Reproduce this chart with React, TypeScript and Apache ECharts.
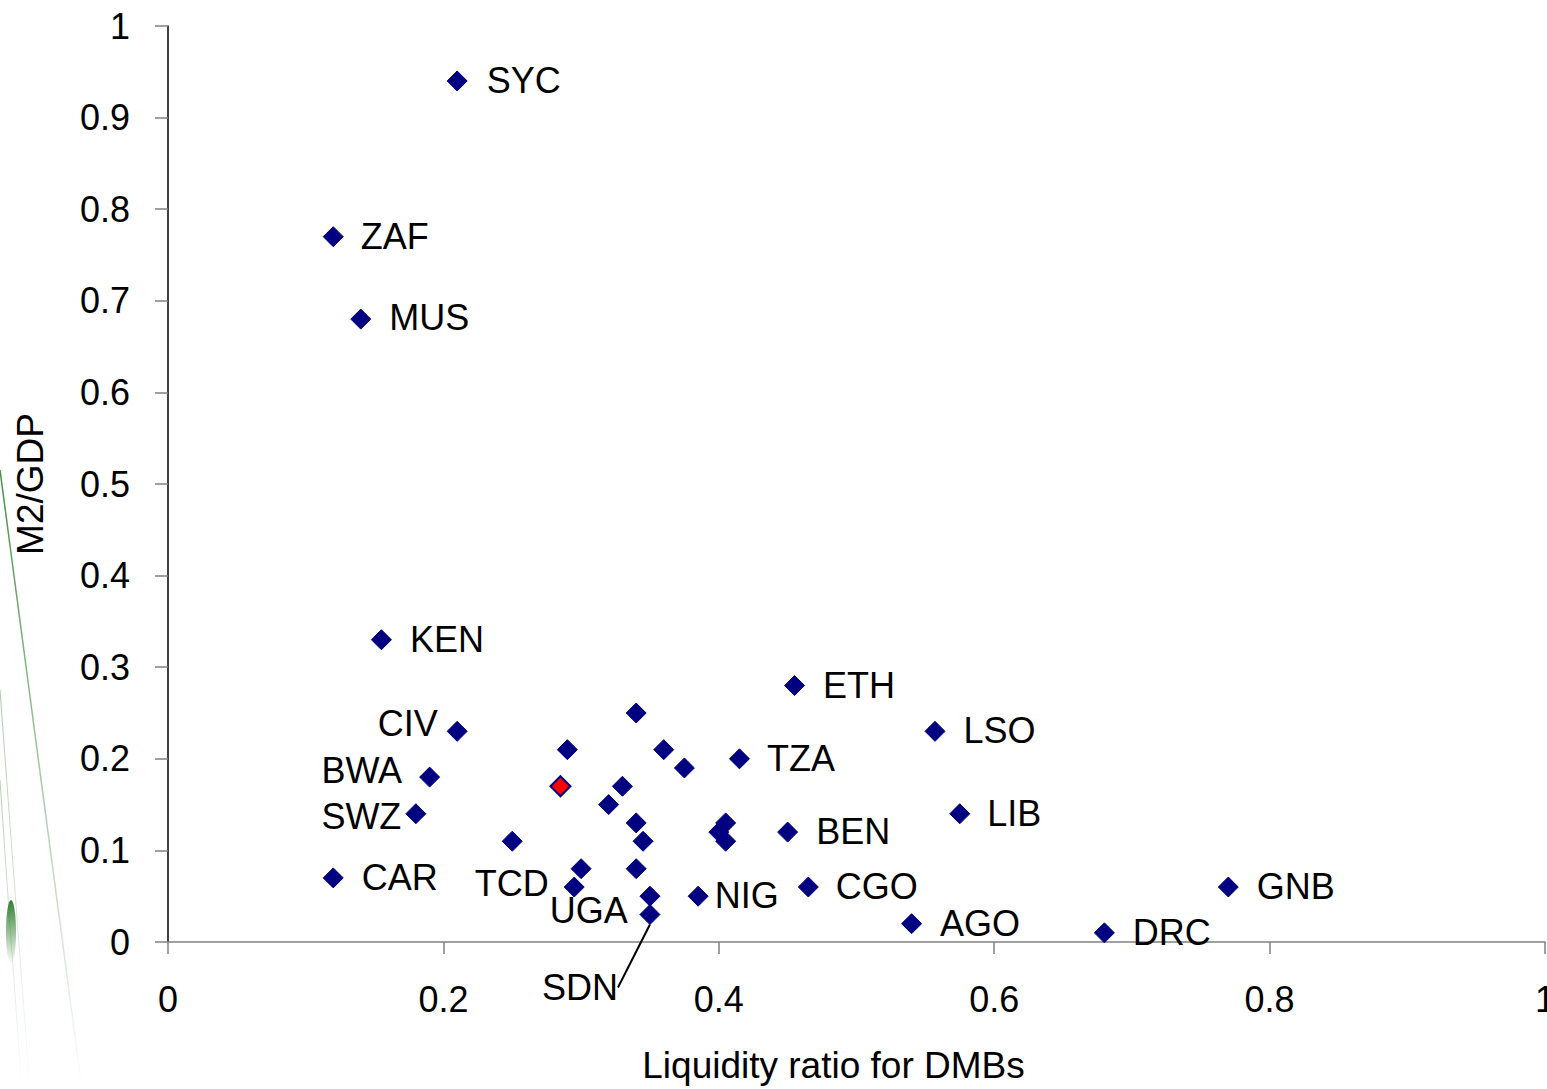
import React, { useEffect, useRef } from "react";
import * as echarts from "echarts";

// Country codes (blank = unlabelled point)
const countryLabels = [
  "SYC", "ZAF", "MUS", "KEN", "CIV", "BWA", "SWZ", "CAR", "TCD", "", "UGA",
  "", "", "", "", "", "", "",
  "TZA",
  "", "", "", "",
  "SDN", "NIG",
  "", "", "",
  "BEN", "ETH", "CGO", "LSO", "LIB", "AGO", "DRC", "GNB",
];

// Liquidity ratio for deposit money banks
const liquidityRatio = [
  0.21, 0.12, 0.14, 0.155, 0.21, 0.19, 0.18, 0.12, 0.25, 0.3, 0.295,
  0.29, 0.285, 0.34, 0.33, 0.32, 0.36, 0.375,
  0.415,
  0.34, 0.345, 0.34, 0.35,
  0.35, 0.385,
  0.405, 0.4, 0.405,
  0.45, 0.455, 0.465, 0.557, 0.575, 0.54, 0.68, 0.77,
];

// Broad money to GDP
const m2ToGdp = [
  0.94, 0.77, 0.68, 0.33, 0.23, 0.18, 0.14, 0.07, 0.11, 0.08, 0.06,
  0.21, 0.17, 0.25, 0.17, 0.15, 0.21, 0.19,
  0.2,
  0.13, 0.11, 0.08, 0.05,
  0.03, 0.05,
  0.13, 0.12, 0.11,
  0.12, 0.28, 0.06, 0.23, 0.14, 0.02, 0.01, 0.06,
];

const xTicks = { min: 0, max: 1, interval: 0.2 };
const yTicks = { min: 0, max: 1, interval: 0.1 };

// Point drawn in red
const highlightIndex = 12;

// Label placement relative to the marker centre (pixels)
type Placement = { dx: number; dy?: number; align?: "left" | "right" | "center" };
const labelPlacement: Record<string, Placement> = {
  SYC: { dx: 30 },
  ZAF: { dx: 28 },
  MUS: { dx: 29, dy: -1 },
  KEN: { dx: 29 },
  CIV: { dx: -19, dy: -7, align: "right" },
  BWA: { dx: -27, dy: -6, align: "right" },
  SWZ: { dx: -14, dy: 3, align: "right" },
  CAR: { dx: 29 },
  TCD: { dx: 0, dy: 43, align: "center" },
  UGA: { dx: -24, dy: 24 },
  TZA: { dx: 28 },
  NIG: { dx: 17 },
  BEN: { dx: 29 },
  ETH: { dx: 29 },
  CGO: { dx: 28 },
  LSO: { dx: 29 },
  LIB: { dx: 28 },
  AGO: { dx: 29 },
  DRC: { dx: 29 },
  GNB: { dx: 29 },
};
// Label pulled away from its marker, with a leader line
const leaderLabel = "SDN";
const leaderShift = { dx: -70, dy: 73 };

const FONT = "'Liberation Sans', Arial, Helvetica, sans-serif";
const LABEL_SIZE = 36;
const TICK_SIZE = 36;
const TITLE_SIZE = 37;
const MARKER = 20;
const NAVY = "#000080";

export default function App() {
  const ref = useRef<HTMLDivElement>(null);

  useEffect(() => {
    if (!ref.current) return;
    const chart = echarts.init(ref.current, undefined, { renderer: "svg" });

    const leaderIndex = countryLabels.indexOf(leaderLabel);

    const data = liquidityRatio.map((x, i) => {
      const name = countryLabels[i];
      const item: any = { value: [x, m2ToGdp[i]], name };
      if (i === highlightIndex) {
        item.itemStyle = { color: "#ff0000", borderColor: NAVY, borderWidth: 2 };
      }
      const p = labelPlacement[name];
      if (p) {
        item.label = {
          show: true,
          position: [MARKER / 2 + p.dx, MARKER / 2 + (p.dy || 0)],
          align: p.align || "left",
          verticalAlign: "middle",
        };
      } else if (i === leaderIndex) {
        item.label = { show: true, position: "inside", align: "center", verticalAlign: "middle" };
        item.labelLine = { show: true, lineStyle: { color: "#000", width: 2 } };
      }
      return item;
    });

    const fade = (c: string) =>
      new echarts.graphic.LinearGradient(0, 0, 0, 1, [
        { offset: 0, color: c },
        { offset: 1, color: "rgba(60,140,60,0)" },
      ]);

    chart.setOption({
      animation: false,
      backgroundColor: "#ffffff",
      textStyle: { fontFamily: FONT },
      graphic: [
        {
          type: "group",
          silent: true,
          z: -10,
          children: [
            {
              type: "bezierCurve",
              shape: { x1: 0, y1: 470, x2: 82, y2: 1089, cpx1: 30, cpy1: 700 },
              style: { stroke: fade("rgba(50,130,50,0.9)"), lineWidth: 1.5, fill: null },
            },
            {
              type: "bezierCurve",
              shape: { x1: 0, y1: 690, x2: 30, y2: 1089, cpx1: 14, cpy1: 880 },
              style: { stroke: fade("rgba(80,150,80,0.5)"), lineWidth: 1, fill: null },
            },
            {
              type: "bezierCurve",
              shape: { x1: 0, y1: 780, x2: 22, y2: 1089, cpx1: 10, cpy1: 930 },
              style: { stroke: fade("rgba(80,150,80,0.45)"), lineWidth: 1, fill: null },
            },
            {
              type: "ellipse",
              shape: { cx: 11, cy: 932, rx: 5, ry: 32 },
              style: {
                fill: new echarts.graphic.LinearGradient(0, 0, 0, 1, [
                  { offset: 0, color: "rgba(40,120,40,0.95)" },
                  { offset: 1, color: "rgba(40,120,40,0)" },
                ]),
              },
            },
          ],
        },
      ],
      grid: {
        left: 168,
        right: 2,
        top: 26,
        bottom: 147,
        containLabel: false,
        outerBoundsMode: "none",
      },
      xAxis: {
        type: "value",
        min: xTicks.min,
        max: xTicks.max,
        interval: xTicks.interval,
        name: "Liquidity ratio for DMBs",
        nameLocation: "middle",
        nameGap: 105,
        nameTextStyle: {
          color: "#000",
          fontSize: TITLE_SIZE,
          fontFamily: FONT,
          padding: [0, 46, 0, 0],
        },
        axisLine: { show: true, onZero: false, lineStyle: { color: "#808080", width: 1.5 } },
        axisTick: { show: true, length: 12, lineStyle: { color: "#808080", width: 1.5 } },
        axisLabel: { color: "#000", fontSize: TICK_SIZE, fontFamily: FONT, margin: 39 },
        splitLine: { show: false },
      },
      yAxis: {
        type: "value",
        min: yTicks.min,
        max: yTicks.max,
        interval: yTicks.interval,
        name: "M2/GDP",
        nameLocation: "middle",
        nameRotate: 90,
        nameGap: 119,
        nameTextStyle: { color: "#000", fontSize: TITLE_SIZE, fontFamily: FONT },
        axisLine: { show: true, onZero: false, lineStyle: { color: "#000", width: 1.5 } },
        axisTick: { show: true, length: 13, lineStyle: { color: "#808080", width: 1.5 } },
        axisLabel: { color: "#000", fontSize: TICK_SIZE, fontFamily: FONT, margin: 38 },
        splitLine: { show: false },
      },
      series: [
        {
          type: "scatter",
          symbol: "diamond",
          symbolSize: MARKER,
          itemStyle: { color: NAVY, borderColor: NAVY, borderWidth: 1, opacity: 1 },
          label: {
            show: false,
            color: "#000",
            fontSize: LABEL_SIZE,
            fontFamily: FONT,
            formatter: "{b}",
          },
          labelLine: { show: false },
          labelLayout: (params: any) =>
            params.dataIndex === leaderIndex ? { dx: leaderShift.dx, dy: leaderShift.dy } : {},
          emphasis: { disabled: true },
          data,
          z: 5,
        },
      ],
    });

    return () => chart.dispose();
  }, []);

  return (
    <div
      ref={ref}
      style={{ position: "fixed", left: 0, top: 0, width: 1547, height: 1089, background: "#fff" }}
    />
  );
}
